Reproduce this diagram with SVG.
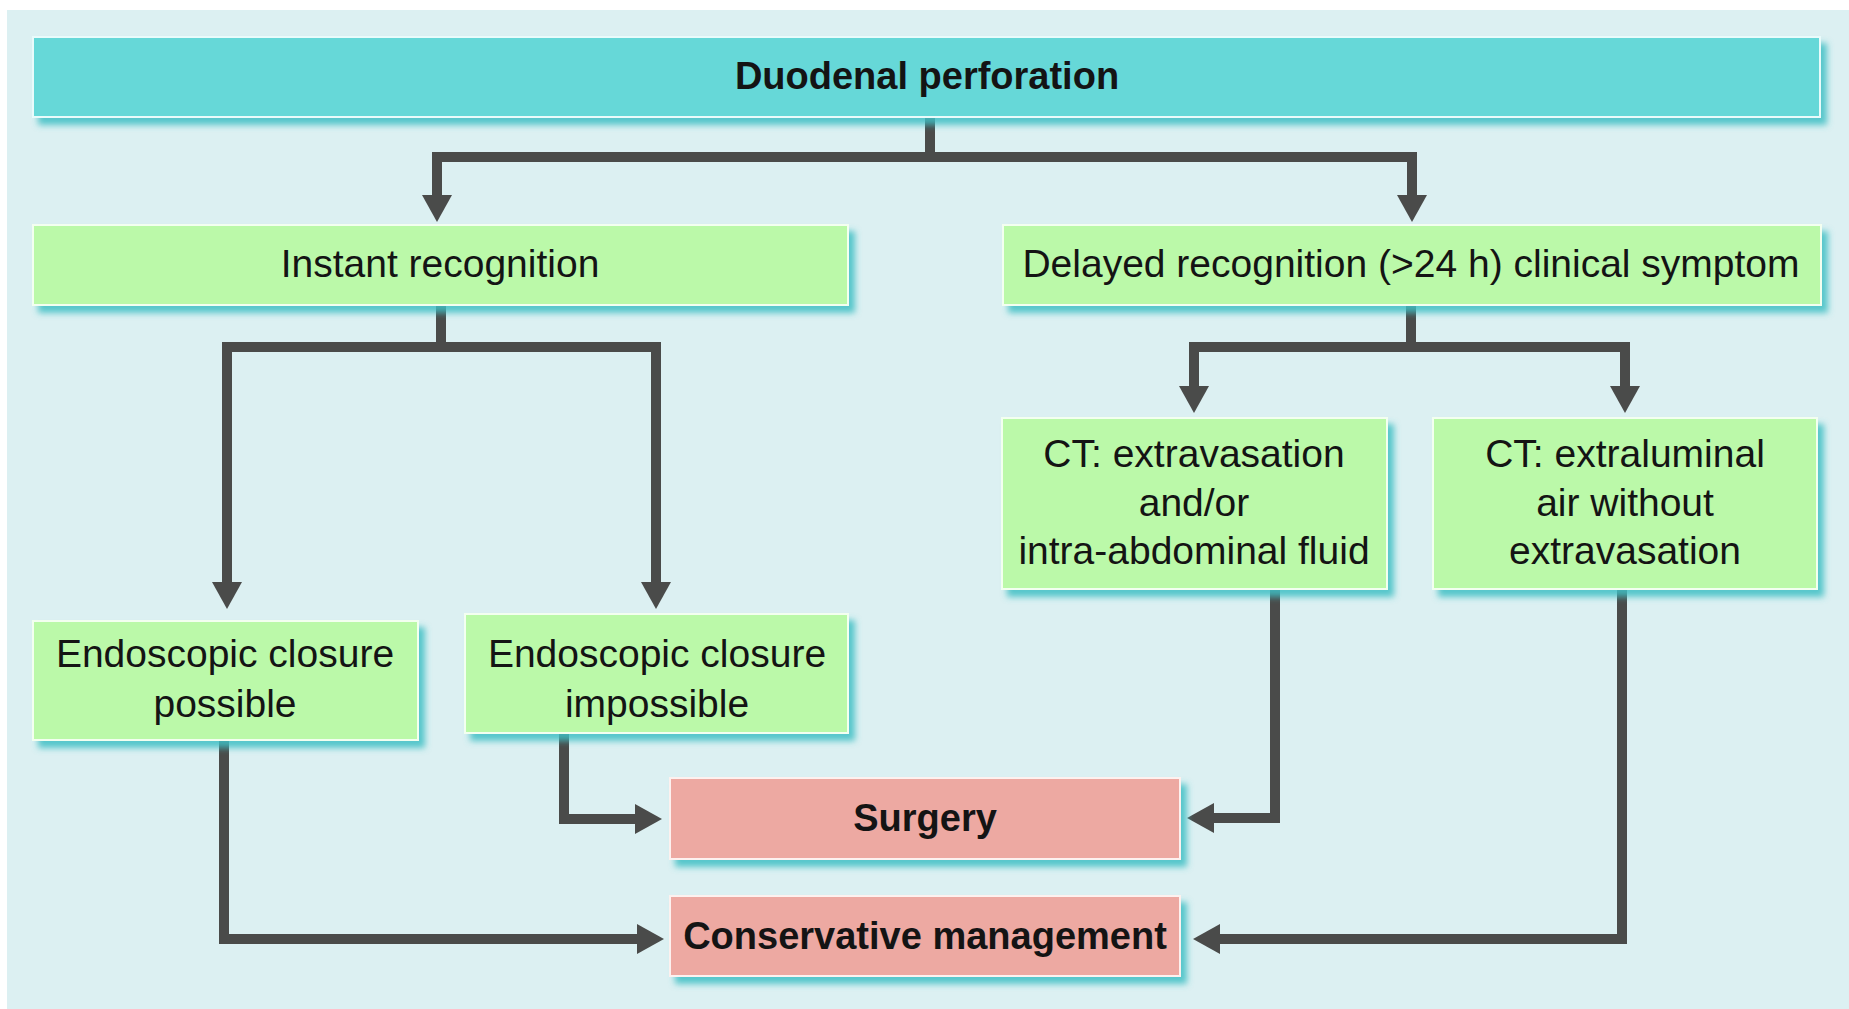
<svg xmlns="http://www.w3.org/2000/svg" width="1849" height="1009" viewBox="0 0 1849 1009">
  <defs>
    <filter id="shadow" x="-5%" y="-20%" width="115%" height="150%">
      <feGaussianBlur in="SourceAlpha" stdDeviation="3" result="b"/>
      <feOffset in="b" dx="6" dy="7" result="o"/>
      <feFlood flood-color="#3fbfc4" flood-opacity="0.85"/>
      <feComposite in2="o" operator="in" result="s"/>
      <feMerge>
        <feMergeNode in="s"/>
        <feMergeNode in="SourceGraphic"/>
      </feMerge>
    </filter>
    <marker id="head" markerUnits="userSpaceOnUse" markerWidth="28" markerHeight="30" refX="0" refY="15" orient="auto">
      <path d="M0,0 L27,15 L0,30 z" fill="#4a4b4a"/>
    </marker>
  </defs>
  <style>
    .bg { fill: #dcf0f2; }
    .top { fill: #66d8d8; stroke: #e9fbfb; stroke-width: 2; filter: url(#shadow); }
    .step { fill: #bbf9a9; stroke: #f3fff0; stroke-width: 2; filter: url(#shadow); }
    .end { fill: #eda9a2; stroke: #fdf1ef; stroke-width: 2; filter: url(#shadow); }
    text { font-family: "Liberation Sans", Arial, sans-serif; font-size: 39px; fill: #141414; text-anchor: middle; }
    .b { font-weight: bold; font-size: 38px; }
    .link { fill: none; stroke: #4a4b4a; stroke-width: 10; stroke-linejoin: miter; stroke-linecap: butt; }
  </style>

  <rect x="0" y="0" width="1849" height="1009" fill="#ffffff"/>
  <rect class="bg" x="7" y="10" width="1842" height="999"/>

  <g id="connectors">
    <path class="link" d="M930,117 V157 H437 V195" marker-end="url(#head)"/>
    <path class="link" d="M925,157 H1412 V195" marker-end="url(#head)"/>
    <path class="link" d="M441,305 V347 H227 V582" marker-end="url(#head)"/>
    <path class="link" d="M436,347 H656 V582" marker-end="url(#head)"/>
    <path class="link" d="M1411,305 V347 H1194 V386" marker-end="url(#head)"/>
    <path class="link" d="M1406,347 H1625 V386" marker-end="url(#head)"/>
    <path class="link" d="M1275,589 V818 H1214" marker-end="url(#head)"/>
    <path class="link" d="M1622,589 V939 H1220" marker-end="url(#head)"/>
    <path class="link" d="M224,740 V939 H637" marker-end="url(#head)"/>
    <path class="link" d="M564,733 V819 H635" marker-end="url(#head)"/>
  </g>

  <g id="duodenal-perforation">
    <rect class="top" x="33" y="37" width="1787" height="80"/>
    <text class="b" x="927" y="89">Duodenal perforation</text>
  </g>

  <g id="instant-recognition">
    <rect class="step" x="33" y="225" width="815" height="80"/>
    <text x="440" y="277">Instant recognition</text>
  </g>

  <g id="delayed-recognition">
    <rect class="step" x="1003" y="225" width="818" height="80"/>
    <text x="1411" y="277">Delayed recognition (&gt;24 h) clinical symptom</text>
  </g>

  <g id="closure-possible">
    <rect class="step" x="33" y="621" width="385" height="119"/>
    <text x="225" y="667">Endoscopic closure</text>
    <text x="225" y="717">possible</text>
  </g>

  <g id="closure-impossible">
    <rect class="step" x="465" y="614" width="383" height="119"/>
    <text x="657" y="667">Endoscopic closure</text>
    <text x="657" y="717">impossible</text>
  </g>

  <g id="ct-extravasation">
    <rect class="step" x="1002" y="418" width="385" height="171"/>
    <text x="1194" y="467">CT: extravasation</text>
    <text x="1194" y="516">and/or</text>
    <text x="1194" y="564">intra-abdominal fluid</text>
  </g>

  <g id="ct-extraluminal-air">
    <rect class="step" x="1433" y="418" width="384" height="171"/>
    <text x="1625" y="467">CT: extraluminal</text>
    <text x="1625" y="516">air without</text>
    <text x="1625" y="564">extravasation</text>
  </g>

  <g id="surgery">
    <rect class="end" x="670" y="778" width="510" height="81"/>
    <text class="b" x="925" y="831">Surgery</text>
  </g>

  <g id="conservative-management">
    <rect class="end" x="670" y="896" width="510" height="80"/>
    <text class="b" x="925" y="949">Conservative management</text>
  </g>
</svg>
